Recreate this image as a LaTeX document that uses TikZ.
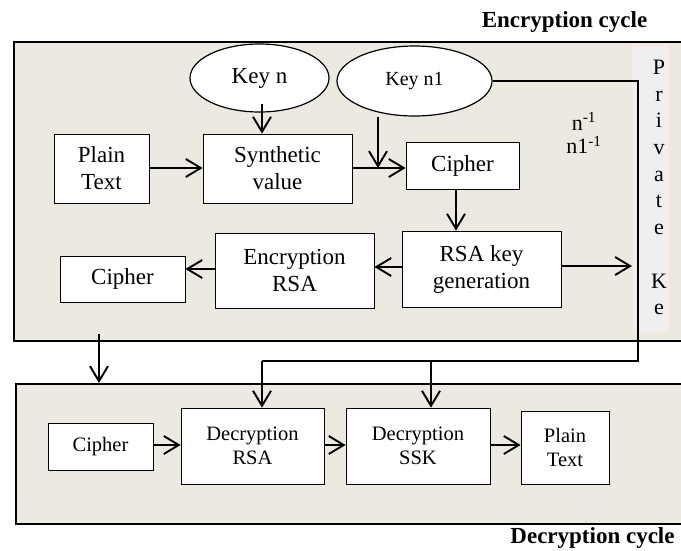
\documentclass[tikz,border=0pt]{standalone}
\usepackage{fontspec}
\setmainfont{Liberation Serif}
\usetikzlibrary{arrows.meta,shapes.geometric}
\definecolor{beige}{HTML}{ECEAE0}
\definecolor{stripgray}{HTML}{EFEFEF}
\newcommand\toplab{\fontsize{23}{27}\selectfont}
\newcommand\botlab{\fontsize{20.5}{23.5}\selectfont}
\newcommand\keylab{\fontsize{20}{24}\selectfont}
\begin{document}
\begin{tikzpicture}[x=1pt,y=-1pt,
  frame/.style={draw, fill=beige, line width=2.2pt, inner sep=0pt, anchor=north west},
  box/.style={draw, fill=white, line width=0.8pt, inner sep=0pt, align=center, font=\toplab},
  bbox/.style={draw, fill=white, line width=0.8pt, inner sep=0pt, align=center, font=\botlab},
  ell/.style={draw, fill=white, ellipse, line width=1.2pt, inner sep=0pt},
  arr/.style={-{Straight Barb[length=15pt,width=18pt]}, line width=1.9pt},
  conn/.style={line width=2pt},
  stripbox/.style={fill=stripgray, draw=white!90!red, line width=0.4pt, anchor=north west, inner sep=0pt},
  title/.style={font=\bfseries\toplab, inner sep=0pt}
]
\useasboundingbox (0,0) rectangle (681,550);
\clip (0,0) rectangle (681,550);

% frames
\node[frame, minimum width=690pt, minimum height=299pt] (enc) at (13,41) {};
\node[frame, minimum width=690pt, minimum height=140pt] (dec) at (15,383) {};

% titles
\node[title] (enctitle) at (564.5,22) {Encryption cycle};
\node[title] (dectitle) at (592.5,538) {Decryption cycle};

% private key strip
\node[stripbox, minimum width=36pt, minimum height=286pt] (strip) at (632,45) {};
\node[font=\fontsize{22}{26.7}\selectfont, align=center, inner sep=0pt] (pk) at (659,187.5)
  {P\\r\\i\\v\\a\\t\\e\\\strut\\K\\e};

% keys
\node[ell, minimum width=139pt, minimum height=68pt, font=\toplab] (keyn) at (259.5,78) {Key n};
\node[ell, minimum width=155pt, minimum height=70pt, font=\keylab] (keyn1) at (414.5,81) {Key n1};

% inverse labels
\node[font=\fontsize{22}{23.5}\selectfont, align=center, inner sep=0pt] (inv) at (584,133)
  {n\textsuperscript{-1}\\n1\textsuperscript{-1}};

% encryption boxes
\node[box, minimum width=95pt, minimum height=69pt] (plain) at (101.5,168.5) {Plain\\Text};
\node[box, minimum width=149pt, minimum height=69pt] (synth) at (277.5,168.5) {Synthetic\\value};
\node[box, minimum width=113pt, minimum height=47pt] (cipher1) at (462.5,165.5) {Cipher};
\node[box, minimum width=159pt, minimum height=76pt] (rsagen) at (481.5,269) {RSA key\\generation};
\node[box, minimum width=159pt, minimum height=75pt] (encrsa) at (294.5,270.5) {Encryption\\RSA};
\node[box, minimum width=125pt, minimum height=46pt] (cipher2) at (122.5,279) {Cipher};

% decryption boxes
\node[bbox, minimum width=105pt, minimum height=47pt] (dcipher) at (100.5,446.5) {Cipher};
\node[bbox, minimum width=143pt, minimum height=76pt] (decrsa) at (252.5,446) {Decryption\\RSA};
\node[bbox, minimum width=144pt, minimum height=76pt] (decssk) at (418,446) {Decryption\\SSK};
\node[bbox, minimum width=88pt, minimum height=73pt] (plain2) at (565,447.5) {Plain\\Text};

% helper coordinates
\coordinate (j1) at (378,168);
\coordinate (ka) at (262,104);
\coordinate (r1) at (638,81);
\coordinate (r2) at (638,361);
\coordinate (b1) at (262,361);
\coordinate (b2) at (431,361);
\coordinate (d0) at (99,334);
\coordinate (c0) at (456,189);

% encryption connectors
\draw[arr] (plain.east |- j1) -- (synth.west |- j1);
\draw[arr] (synth.east |- j1) -- (cipher1.west |- j1);
\draw[arr] (ka) -- (ka |- synth.north);
\draw[arr] (j1 |- keyn1.south) -- (j1);
\draw[arr] (c0) -- (c0 |- rsagen.north);
\draw[arr] (rsagen.west |- 0,267) -- (encrsa.east |- 0,267);
\draw[arr] (encrsa.west |- 0,269) -- (cipher2.east |- 0,269);
\draw[arr] (rsagen.east |- 0,266) -- (strip.west |- 0,266);

% private key line
\draw[conn] (keyn1.east |- r1) -- (r1) -- (r2) -- (b1);
\draw[arr] (b1) -- (b1 |- decrsa.north);
\draw[arr] (b2) -- (b2 |- decssk.north);

% between cycles
\draw[arr] (d0) -- (d0 |- dec.north);

% decryption connectors
\draw[arr] (dcipher.east |- 0,445) -- (decrsa.west |- 0,445);
\draw[arr] (decrsa.east |- 0,445) -- (decssk.west |- 0,445);
\draw[arr] (decssk.east |- 0,445) -- (plain2.west |- 0,445);
\end{tikzpicture}
\end{document}
